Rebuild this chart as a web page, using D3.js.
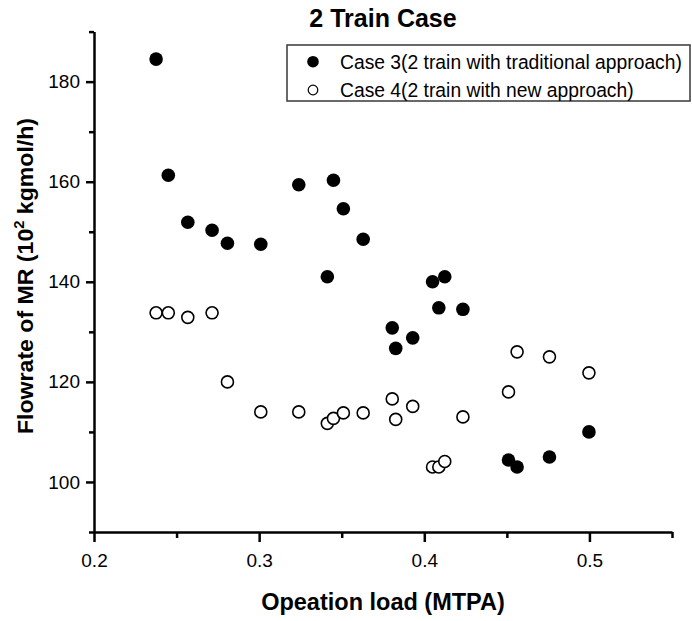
<!DOCTYPE html>
<html>
<head>
<meta charset="utf-8">
<script src="https://cdn.jsdelivr.net/npm/d3@7"></script>
<style>
  html, body { margin: 0; padding: 0; background: #fff; }
  svg { display: block; font-family: "Liberation Sans", Arial, sans-serif; }
</style>
</head>
<body>
<svg id="chart" width="692" height="621"></svg>
<script>
// Operation load (MTPA) shared by both cases
const load = [0.2376, 0.245, 0.2568, 0.2715, 0.2808, 0.301, 0.324, 0.3413, 0.345, 0.351, 0.363,
              0.3806, 0.3827, 0.393, 0.405, 0.4088, 0.4124, 0.4234, 0.451, 0.4562, 0.4758, 0.4997];
// Flowrate of MR (10^2 kgmol/h)
const case3 = [184.5, 161.3, 151.9, 150.3, 147.7, 147.5, 159.4, 141.0, 160.3, 154.6, 148.5,
               130.8, 126.7, 128.8, 140.0, 134.8, 141.0, 134.5, 104.4, 103.0, 105.0, 110.0];
const case4 = [133.8, 133.8, 132.9, 133.8, 120.0, 114.0, 114.0, 111.7, 112.7, 113.8, 113.8,
               116.6, 112.5, 115.1, 103.0, 103.0, 104.1, 113.0, 118.0, 126.0, 125.0, 121.8];
const seriesNames = ["Case 3(2 train with traditional approach)", "Case 4(2 train with new approach)"];
const xTicks = [0.2, 0.3, 0.4, 0.5];
const xMinor = [0.25, 0.35, 0.45, 0.55];
const yTicks = [100, 120, 140, 160, 180];
const yMinor = [90, 110, 130, 150, 170, 190];

const svg = d3.select("#chart");
const plotLeft = 94, plotRight = 672, plotTop = 31.6, plotBottom = 532;

const x = d3.scaleLinear().domain([0.2, 0.55]).range([plotLeft, plotRight]);
const y = d3.scaleLinear().domain([90, 190]).range([plotBottom, plotTop]);

// Axes: major ticks with labels, minor ticks without
function styleAxis(g) {
  g.select(".domain").attr("stroke", "#000").attr("stroke-width", 2.5);
  g.selectAll(".tick line").attr("stroke", "#000").attr("stroke-width", 2.5);
  g.selectAll(".tick text").attr("fill", "#000").attr("font-size", 19);
}

const gx = svg.append("g").attr("transform", `translate(0,${plotBottom})`)
  .call(d3.axisBottom(x).tickValues(xTicks).tickFormat(d3.format(".1f")).tickSize(10).tickPadding(12).tickSizeOuter(0));
styleAxis(gx);
const gxm = svg.append("g").attr("transform", `translate(0,${plotBottom})`)
  .call(d3.axisBottom(x).tickValues(xMinor).tickFormat("").tickSize(6).tickSizeOuter(0));
styleAxis(gxm);
gxm.select(".domain").remove();

const gy = svg.append("g").attr("transform", `translate(${plotLeft},0)`)
  .call(d3.axisLeft(y).tickValues(yTicks).tickSize(8).tickPadding(6).tickSizeOuter(0));
styleAxis(gy);
const gym = svg.append("g").attr("transform", `translate(${plotLeft},0)`)
  .call(d3.axisLeft(y).tickValues(yMinor).tickFormat("").tickSize(5).tickSizeOuter(0));
styleAxis(gym);
gym.select(".domain").remove();

// Titles
svg.append("text")
  .attr("x", (plotLeft + plotRight) / 2).attr("y", 27)
  .attr("text-anchor", "middle").attr("font-weight", "bold").attr("font-size", 25)
  .text("2 Train Case");

svg.append("text")
  .attr("x", (plotLeft + plotRight) / 2).attr("y", 610)
  .attr("text-anchor", "middle").attr("font-weight", "bold").attr("font-size", 23.5)
  .text("Opeation load (MTPA)");

const yt = svg.append("text")
  .attr("transform", `translate(33,276) rotate(-90) scale(1.05,1)`)
  .attr("text-anchor", "middle").attr("font-weight", "bold").attr("font-size", 22);
yt.append("tspan").text("Flowrate of MR (10");
yt.append("tspan").attr("font-size", 14).attr("dy", -9).text("2");
yt.append("tspan").attr("dy", 9).text(" kgmol/h)");

// Points
const pts3 = load.map((d, i) => ({ x: d, y: case3[i] }));
const pts4 = load.map((d, i) => ({ x: d, y: case4[i] }));

svg.append("g").selectAll("circle").data(pts4).join("circle")
  .attr("cx", d => x(d.x)).attr("cy", d => y(d.y)).attr("r", 6)
  .attr("fill", "#fff").attr("stroke", "#000").attr("stroke-width", 1.6);

svg.append("g").selectAll("circle").data(pts3).join("circle")
  .attr("cx", d => x(d.x)).attr("cy", d => y(d.y)).attr("r", 6.8)
  .attr("fill", "#000");

// Legend
const lg = svg.append("g");
lg.append("rect").attr("x", 287).attr("y", 45).attr("width", 403).attr("height", 56)
  .attr("fill", "#fff").attr("stroke", "#444").attr("stroke-width", 1.6);
const rows = [{ fill: "#000", r: 5.8, stroke: "none" }, { fill: "#fff", r: 4.8, stroke: "#000" }];
rows.forEach((s, i) => {
  const cy = 61.7 + i * 28.3;
  lg.append("circle").attr("cx", 313).attr("cy", cy).attr("r", s.r)
    .attr("fill", s.fill).attr("stroke", s.stroke).attr("stroke-width", 1.2);
  lg.append("text").attr("x", 340).attr("y", cy + 6.8).attr("font-size", 19.3)
    .text(seriesNames[i]);
});
</script>
</body>
</html>
